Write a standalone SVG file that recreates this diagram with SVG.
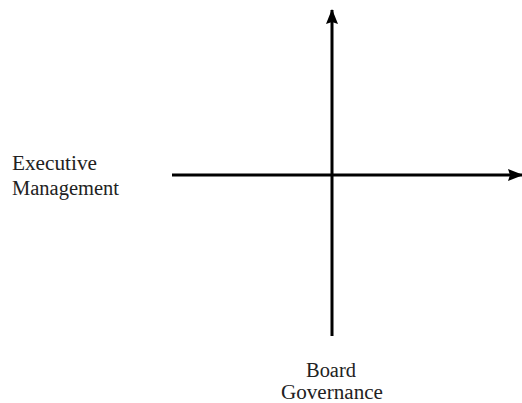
<svg xmlns="http://www.w3.org/2000/svg" width="522" height="403" viewBox="0 0 522 403">
<defs>
<style>
.lbl{font-family:"Liberation Serif","DejaVu Serif",serif;font-size:20px;fill:#222;}
.axis{stroke:#000;stroke-width:3;fill:none;}
</style>
<marker id="arr" viewBox="0 0 15 12" refX="14" refY="6" markerWidth="15" markerHeight="12" markerUnits="userSpaceOnUse" orient="auto">
<path d="M0,0 L15,6 L0,12 L2,6 Z" fill="#000"/>
</marker>
</defs>
<g id="connectors">
<line class="axis" x1="332" y1="336" x2="332" y2="10" marker-end="url(#arr)"/>
<line class="axis" x1="172" y1="175" x2="522" y2="175" marker-end="url(#arr)"/>
</g>
<g id="executive-management">
<text class="lbl" font-family="Liberation Serif, serif" x="12" y="170" textLength="85" lengthAdjust="spacingAndGlyphs">Executive</text>
<text class="lbl" font-family="Liberation Serif, serif" x="12" y="195" textLength="107" lengthAdjust="spacingAndGlyphs">Management</text>
</g>
<g id="board-governance">
<text class="lbl" font-family="Liberation Serif, serif" x="306" y="377" textLength="50" lengthAdjust="spacingAndGlyphs">Board</text>
<text class="lbl" font-family="Liberation Serif, serif" x="281" y="399" textLength="102" lengthAdjust="spacingAndGlyphs">Governance</text>
</g>
</svg>
